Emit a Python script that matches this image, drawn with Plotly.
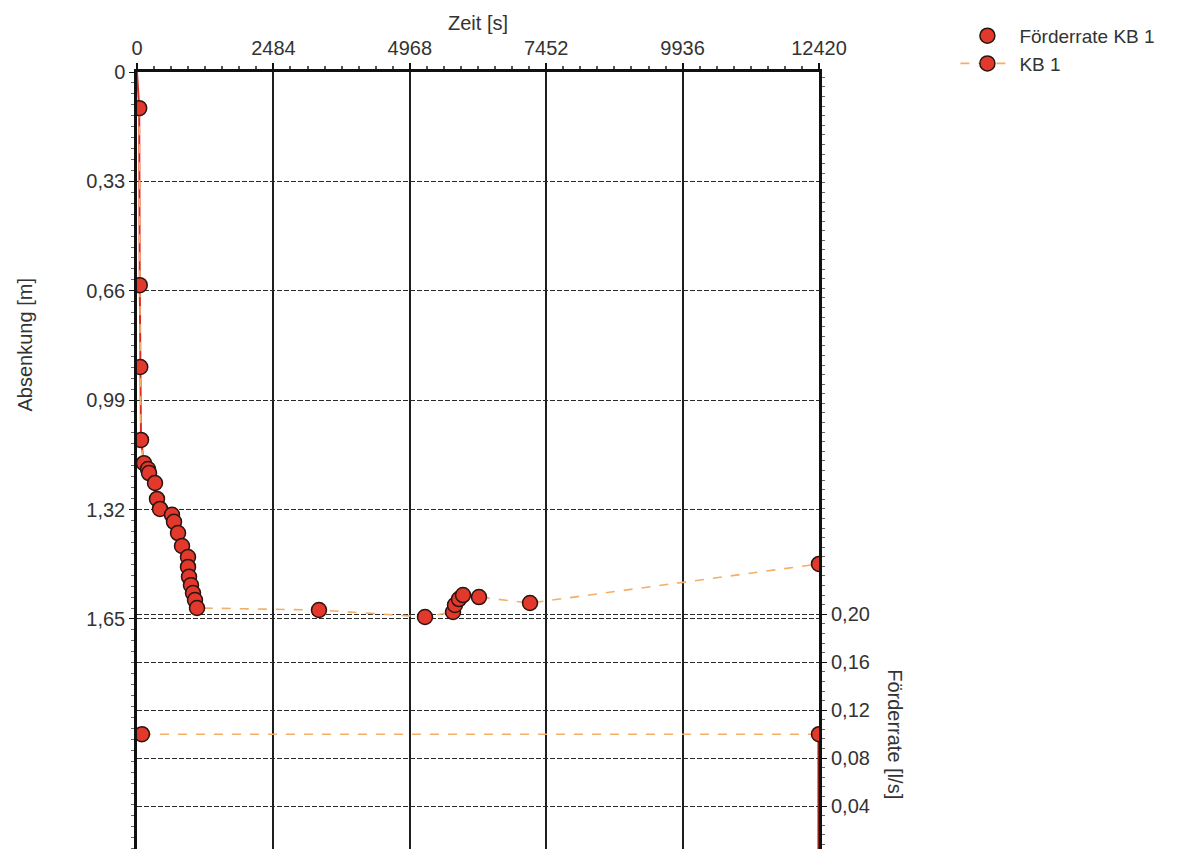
import plotly.graph_objects as go

# Drawdown at well KB 1 (time in s, drawdown in m)
zeit_kb1 = [40, 50, 60, 73, 127, 200, 219, 328, 364, 419, 637, 674, 747, 820,
            929, 929, 947, 983, 1020, 1056, 1093, 3314, 5245, 5755, 5791, 5864,
            5937, 6228, 7157, 12420]
absenkung_kb1 = [0.109, 0.643, 0.890, 1.110, 1.180, 1.198, 1.210, 1.240, 1.288,
                 1.318, 1.336, 1.357, 1.391, 1.430, 1.463, 1.493, 1.523, 1.548, 1.572,
                 1.593, 1.617, 1.623, 1.644, 1.629, 1.608, 1.590, 1.578, 1.584, 1.602,
                 1.484]

# Pumping rate (time in s, rate in l/s)
zeit_rate = [90, 12420, 12420]
foerderrate = [0.10, 0.10, 0.0]

# Axis ticks
x_ticks = [0, 2484, 4968, 7452, 9936, 12420]
x_ticktext = ["0", "2484", "4968", "7452", "9936", "12420"]
y_ticks = [0, 0.33, 0.66, 0.99, 1.32, 1.65]
y_ticktext = ["0", "0,33", "0,66", "0,99", "1,32", "1,65"]
y2_ticks = [0.04, 0.08, 0.12, 0.16, 0.20]
y2_ticktext = ["0,04", "0,08", "0,12", "0,16", "0,20"]

FONT = "Liberation Sans, Arial, sans-serif"
TXT = "#333333"
RED = "#e2392c"
EDGE = "#2a1410"
ORANGE = "#f3ae6a"
FS = 20

fig = go.Figure()

# early part of the drawdown curve (steep red segment)
fig.add_trace(go.Scatter(
    x=[0] + zeit_kb1[:5], y=[0] + absenkung_kb1[:5], mode="lines",
    line=dict(color="#e02a1e", width=2), showlegend=False, hoverinfo="skip"))

# rate: constant pumping, then shut-off
fig.add_trace(go.Scatter(
    x=zeit_rate[:2], y=foerderrate[:2], yaxis="y2", mode="lines",
    line=dict(color=ORANGE, width=1.5, dash="dash"), showlegend=False, hoverinfo="skip"))
fig.add_trace(go.Scatter(
    x=zeit_rate[1:], y=foerderrate[1:], yaxis="y2", mode="lines",
    line=dict(color="#8a1f14", width=3), showlegend=False, hoverinfo="skip"))

fig.add_trace(go.Scatter(
    x=zeit_rate[:2], y=foerderrate[:2], yaxis="y2", mode="markers",
    name="Förderrate KB 1",
    marker=dict(size=15, color=RED, line=dict(color=EDGE, width=1.5))))

fig.add_trace(go.Scatter(
    x=zeit_kb1, y=absenkung_kb1, mode="lines+markers", name="KB 1",
    line=dict(color=ORANGE, width=1.6, dash="dash"),
    marker=dict(size=15, color=RED, line=dict(color=EDGE, width=1.5))))

fig.update_layout(
    width=1185, height=849,
    margin=dict(l=137, r=366, t=72, b=0),
    paper_bgcolor="white", plot_bgcolor="white",
    font=dict(family=FONT, size=FS, color=TXT),
    xaxis=dict(
        side="top", range=[0, 12420], tickvals=x_ticks, ticktext=x_ticktext,
        title=dict(text="Zeit [s]", font=dict(size=FS, color=TXT), standoff=2),
        showline=True, linecolor="#111111", linewidth=2.5,
        ticks="outside", ticklen=6, tickcolor="#111111", tickwidth=1.5,
        showgrid=True, gridcolor="#1e1e1e", gridwidth=1.5,
        tickfont=dict(size=FS, color=TXT),
        minor=dict(dtick=310.5, ticks="outside", ticklen=3, tickcolor="#555555"),
        zeroline=False),
    yaxis=dict(
        range=[2.344, 0], tickvals=y_ticks, ticktext=y_ticktext,
        showline=True, linecolor="#111111", linewidth=2.5,
        ticks="outside", ticklen=5, tickcolor="#111111",
        showgrid=True, gridcolor="#2a2a2a", gridwidth=1.4, griddash="5px,2px",
        tickfont=dict(size=FS, color=TXT),
        minor=dict(dtick=0.033, tick0=0, ticks="outside", ticklen=3, tickcolor="#666666"),
        zeroline=False),
    yaxis2=dict(
        overlaying="y", side="right", anchor="x",
        range=[0.0042, 0.6525], tickvals=y2_ticks, ticktext=y2_ticktext,
        showline=True, linecolor="#111111", linewidth=3,
        ticks="outside", ticklen=5, tickcolor="#111111",
        showgrid=True, gridcolor="#2a2a2a", gridwidth=1.4, griddash="5px,2px",
        tickfont=dict(size=FS, color=TXT),
        minor=dict(dtick=0.008, tick0=0, ticks="outside", ticklen=3, tickcolor="#666666"),
        zeroline=False),
    legend=dict(
        x=1.2, y=1.071, xanchor="left", yanchor="top",
        font=dict(size=FS - 1, color=TXT), bgcolor="rgba(0,0,0,0)",
        itemwidth=54, tracegroupgap=0),
    showlegend=True,
)

# axis titles placed beside the labelled tick ranges
fig.add_annotation(
    text="Absenkung [m]", xref="paper", yref="y", x=0, y=0.825,
    xanchor="center", yanchor="middle", xshift=-112, textangle=-90,
    showarrow=False, font=dict(size=FS, color=TXT))
fig.add_annotation(
    text="Förderrate [l/s]", xref="paper", yref="y2", x=1, y=0.10,
    xanchor="center", yanchor="middle", xshift=76, textangle=90,
    showarrow=False, font=dict(size=FS, color=TXT))

fig.write_html("out.html")
